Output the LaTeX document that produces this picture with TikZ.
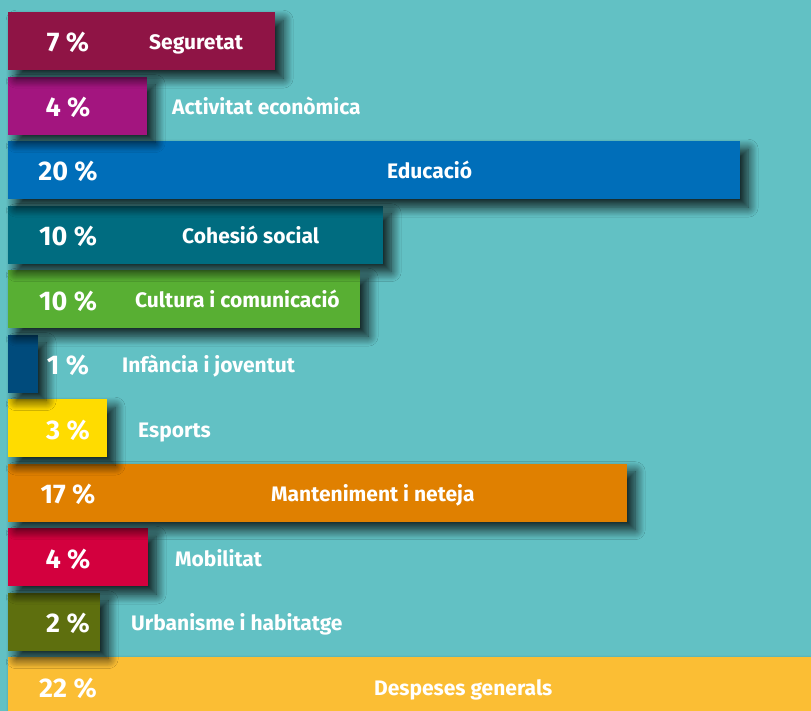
\documentclass[tikz,border=0pt]{standalone}
\usepackage{fontspec}
\setmainfont{Fira Sans}
\usetikzlibrary{shadows.blur}

\definecolor{bgteal}{HTML}{62C1C4}
\definecolor{cseg}{HTML}{8F1445}
\definecolor{cact}{HTML}{A3157F}
\definecolor{cedu}{HTML}{006EB9}
\definecolor{ccoh}{HTML}{006C80}
\definecolor{ccul}{HTML}{58AF33}
\definecolor{cinf}{HTML}{004B7C}
\definecolor{cesp}{HTML}{FFDC00}
\definecolor{cman}{HTML}{E08000}
\definecolor{cmob}{HTML}{D3003E}
\definecolor{curb}{HTML}{5E6F0E}
\definecolor{cdes}{HTML}{FBBE34}

\begin{document}
\begin{tikzpicture}[
    x=1pt,y=-1pt,
    bar/.style={inner sep=0pt,anchor=north west,minimum height=58pt,
      blur shadow={shadow xshift=8pt,shadow yshift=-8pt,shadow blur radius=10pt,
        shadow blur steps=14,shadow opacity=85}},
    pct/.style={text=white,inner sep=0pt,anchor=base,font=\bfseries\fontsize{27}{27}\selectfont},
    lab/.style={text=white,inner sep=0pt,anchor=base west,font=\bfseries\fontsize{21}{21}\selectfont}
    ]

    % background:
    \fill[bgteal] (0,0) rectangle (811,711);
    \useasboundingbox (0,0) rectangle (811,711);

    % bars, from the bottom up so that each shadow falls on the bar below:
    \foreach \i/\w/\c/\p/\t/\lx in {
        11/803/cdes/22/Despeses generals/374,
        10/92/curb/2/Urbanisme i habitatge/131,
        9/140/cmob/4/Mobilitat/175,
        8/619/cman/17/Manteniment i neteja/271,
        7/99/cesp/3/Esports/138,
        6/30/cinf/1/Infància i joventut/122,
        5/352/ccul/10/Cultura i comunicació/135,
        4/375/ccoh/10/Cohesió social/182,
        3/732/cedu/20/Educació/387,
        2/139/cact/4/Activitat econòmica/172,
        1/267/cseg/7/Seguretat/149}
    {
      \node (bar\i) [bar,fill=\c,minimum width=\w pt] at (8, 12 + 64.5 * \i - 64.5) {};
      \node (pct\i) [pct] at (68, 52 + 64.5 * \i - 64.5) {\p~\%};
      \node (lab\i) [lab] at (\lx, 50 + 64.5 * \i - 64.5) {\t};
    }

  \end{tikzpicture}
\end{document}
